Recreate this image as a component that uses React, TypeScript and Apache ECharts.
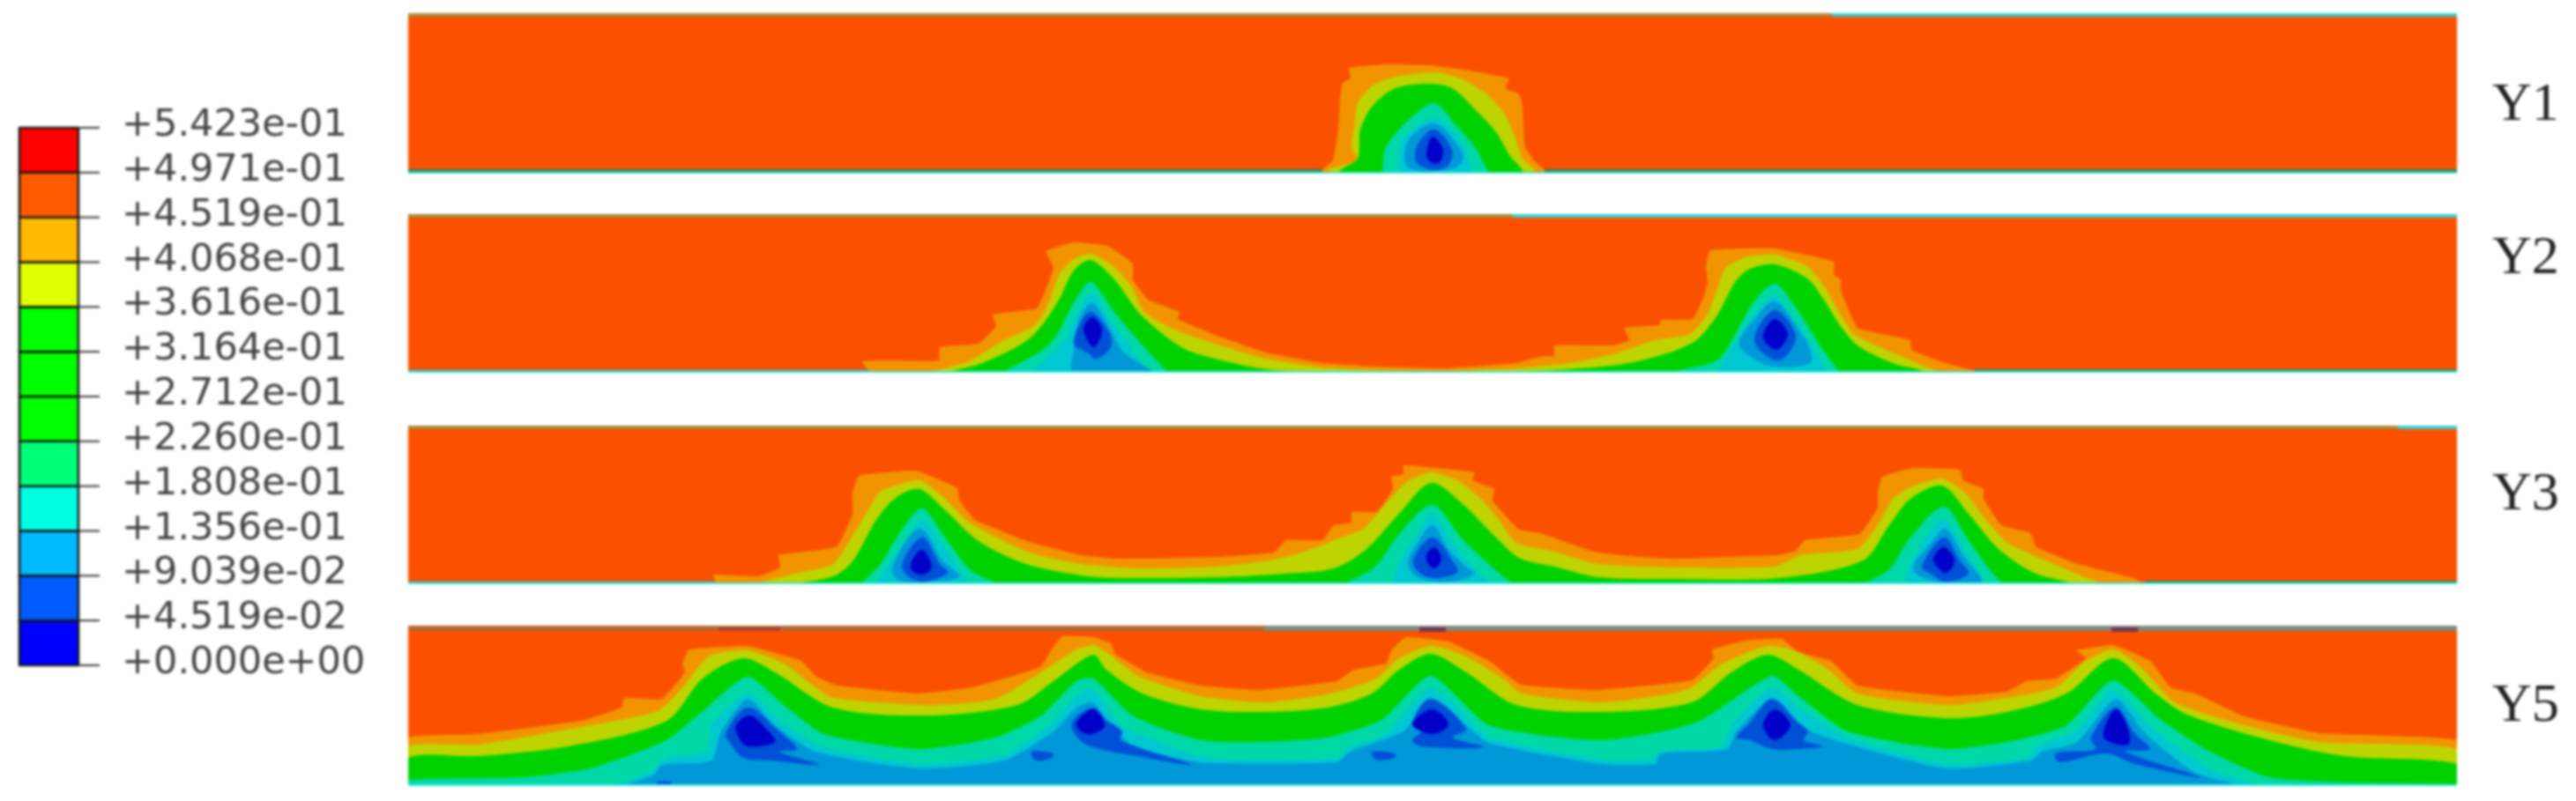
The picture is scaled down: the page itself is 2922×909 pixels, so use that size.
import React, { useEffect, useRef } from "react";
import * as echarts from "echarts";

const legendLabels = ["+0.000e+00","+4.519e-02","+9.039e-02","+1.356e-01","+1.808e-01","+2.260e-01","+2.712e-01","+3.164e-01","+3.616e-01","+4.068e-01","+4.519e-01","+4.971e-01","+5.423e-01"];
const legendColors = ["#0000ff","#005cff","#00baff","#00ffe0","#00ff78","#00ff00","#00ff00","#00ff00","#e0ff00","#ffb900","#ff5a00","#ff0000"];
const panelNames = ["Y1","Y2","Y3","Y5"];

const ORANGE="#FA5000", AMBER="#F29400", YELLOW="#BED400", GREEN="#00D200", TEAL="#00D8A8", CYAN="#00C8D0", SKY="#0098D8", BLUE="#0050D8", NAVY="#0000C8";

// contour outlines: flat lists of position, height above the lower edge
const y1Amber=[1500,4,1512,15,1518,50,1520,83,1523,103,1532,108,1530,120,1573,124,1620,123,1667,117,1712,108,1707,97,1723,90,1727,77,1728,57,1730,30,1740,15,1752,4];
const y1Yellow=[1508,5,1540,15,1533,30,1537,57,1540,80,1557,100,1583,110,1627,115,1657,108,1687,90,1707,67,1720,37,1727,17,1740,5];
const y1Green=[1520,4,1540,17,1543,50,1557,77,1583,97,1620,102,1647,97,1673,73,1697,47,1713,20,1727,4];
const y1Teal=[1568,2,1572,30,1597,60,1627,80,1653,53,1673,30,1688,2];
const y1Cyan=[1587,3,1590,37,1627,63,1657,37,1670,3];
const y1Sky=[1597,7,1597,37,1627,57,1653,33,1660,17,1647,5];
const y1Blue=[1607,13,1608,33,1627,50,1647,27,1643,10,1627,4];
const y1Navy=[1618,20,1625,42,1637,27,1633,13,1625,12];

const y2Amber=[986,1,978,13,1015,14,1065,14,1066,29,1110,33,1130,53,1126,66,1176,73,1187,96,1195,119,1187,138,1218,148,1256,144,1285,124,1285,106,1302,83,1338,69,1336,61,1378,43,1436,23,1500,11,1560,7,1640,5,1720,11,1750,19,1763,19,1763,31,1830,31,1848,37,1843,51,1883,54,1883,60,1920,61,1933,87,1937,104,1935,121,1940,139,2013,141,2080,126,2080,111,2088,106,2088,94,2107,51,2167,37,2168,26,2203,12,2240,2];
const y2Yellow=[1061,2,1099,13,1137,36,1172,53,1187,73,1202,113,1218,129,1237,135,1260,123,1283,99,1298,69,1332,49,1378,33,1436,16,1500,6,1560,3,1640,2,1720,5,1787,12,1833,22,1877,37,1917,44,1937,67,1950,101,1957,119,1980,131,2013,134,2050,121,2070,97,2087,67,2103,44,2137,27,2187,6,2200,1];
const y2Green=[1076,1,1114,11,1168,39,1199,79,1218,116,1237,128,1264,106,1294,66,1340,29,1378,16,1436,4,1474,2,1560,1.5,1720,2,1780,4,1853,12,1920,34,1947,64,1967,101,1983,117,2013,123,2050,107,2070,81,2087,54,2107,31,2147,11,2183,2];
const y2TealA=[1137,0,1191,33,1218,79,1237,103,1264,69,1298,29,1325,0];
const y2CyanA=[1168,0,1206,36,1225,73,1239,89,1260,59,1283,29,1302,0];
const y2SkyA=[1218,26,1225,63,1239,79,1256,56,1275,23,1306,0,1218,0];
const y2BlueA=[1218,33,1229,63,1239,69,1258,46,1260,29,1244,16,1233,23];
const y2NavyA=[1229,49,1239,63,1250,49,1241,29];
const y2TealB=[1890,0,1947,14,1967,41,1987,77,2013,101,2037,74,2067,27,2087,0];
const y2CyanB=[1947,0,1970,37,1993,71,2013,87,2033,64,2060,24,2073,0];
const y2SkyB=[1973,34,1990,61,2013,81,2037,54,2053,27,2053,11,2013,7,1987,17];
const y2BlueB=[1990,37,2013,71,2037,41,2017,14];
const y2NavyB=[2000,41,2013,61,2028,44,2015,26];

const y3Amber=[811,4,809,11,860,9,885,19,883,33,932,39,950,43,967,79,967,104,974,123,1039,129,1086,109,1088,96,1106,73,1168,48,1226,33,1271,29,1383,31,1445,36,1459,50,1500,50,1513,67,1533,70,1533,82,1562,82,1580,108,1578,122,1592,125,1592,135,1673,127,1670,118,1695,108,1693,95,1723,62,1747,58,1807,37,1847,32,1900,29,1957,31,2017,33,2037,38,2047,50,2110,57,2130,87,2130,105,2135,122,2170,132,2223,130,2227,118,2250,108,2250,97,2270,67,2303,58,2310,42,2357,23,2420,7,2433,0];
const y3Yellow=[860,1,905,13,945,23,972,63,990,93,999,106,1043,118,1070,99,1101,69,1168,36,1226,23,1293,18,1380,20,1440,27,1480,37,1513,50,1547,63,1573,93,1597,117,1623,127,1653,118,1680,97,1700,73,1720,47,1763,37,1813,23,1900,19,2013,20,2043,33,2107,40,2130,67,2147,97,2167,110,2203,120,2230,103,2253,73,2277,47,2320,27,2367,7,2383,1];
const y3Green=[896,0,945,9,967,26,994,73,1017,99,1043,108,1070,86,1110,49,1164,23,1235,9,1293,7,1380,8,1457,12,1513,18,1550,40,1587,80,1623,115,1657,93,1697,53,1723,30,1763,20,1813,8,1900,6,2017,7,2113,27,2143,67,2167,97,2203,112,2233,80,2267,40,2307,13,2347,2];
const y3TealA=[976,0,999,23,1021,59,1046,86,1070,56,1101,16,1133,0];
const y3CyanA=[994,0,1008,23,1030,53,1046,73,1066,49,1097,3,1095,0];
const y3SkyA=[1012,19,1043,63,1070,26,1088,9,1057,3,1021,4];
const y3BlueA=[1023,23,1046,53,1066,23,1075,13,1048,3,1030,9];
const y3NavyA=[1034,26,1046,39,1057,19,1046,11,1034,16];
const y3TealB=[1523,0,1560,20,1587,57,1625,90,1660,50,1700,13,1717,0];
const y3CyanB=[1580,0,1590,30,1610,60,1625,80,1653,40,1680,10,1693,0];
const y3SkyB=[1597,23,1610,50,1625,67,1643,40,1663,20,1673,12,1647,3,1610,7];
const y3BlueB=[1603,27,1625,53,1650,23,1653,13,1627,7,1610,13];
const y3NavyB=[1618,33,1627,42,1635,30,1628,18,1620,23];
const y3TealC=[2113,0,2143,17,2167,53,2205,88,2233,50,2260,13,2273,0];
const y3CyanC=[2160,0,2167,23,2187,57,2205,73,2230,37,2253,0];
const y3SkyC=[2170,17,2193,50,2207,63,2227,33,2247,3,2200,2];
const y3BlueC=[2180,20,2205,53,2223,27,2233,12,2207,3,2190,12];
const y3NavyC=[2193,30,2205,42,2217,27,2208,13,2197,20];

const y5Amber=[463,55,542,59,659,74,705,89,708,100,751,99,777,129,774,139,782,155,848,159,909,142,925,125,950,114,1042,105,1103,112,1180,135,1193,155,1205,170,1240,169,1260,162,1266,149,1301,129,1362,114,1429,109,1516,119,1536,132,1572,139,1579,155,1595,169,1643,164,1689,142,1725,115,1811,109,1919,120,1944,145,1942,155,1980,165,2021,167,2040,152,2077,142,2107,114,2209,102,2276,107,2299,119,2332,122,2366,145,2355,154,2397,160,2439,142,2462,112,2490,105,2546,79,2631,60,2787,52];
const y5Yellow=[463,45,542,47,670,69,746,85,772,109,792,135,807,149,848,154,889,139,925,112,945,100,1052,92,1129,99,1190,135,1221,155,1240,160,1255,152,1291,125,1362,102,1434,95,1505,104,1561,122,1587,145,1623,159,1663,147,1709,119,1725,105,1817,95,1913,109,1954,139,2005,159,2040,152,2074,132,2107,105,2209,92,2271,99,2332,112,2366,142,2397,155,2428,135,2467,95,2546,69,2631,50,2787,42];
const y5Green=[463,32,542,34,644,45,756,74,797,122,843,145,879,129,945,89,1052,80,1154,92,1195,119,1240,149,1255,132,1296,105,1362,87,1434,84,1505,89,1556,105,1587,132,1623,150,1663,129,1720,92,1817,84,1919,95,1964,129,2005,149,2040,132,2107,92,2209,77,2276,84,2344,105,2397,145,2445,105,2479,82,2563,55,2659,34,2787,25];
const y5Teal=[463,7,593,10,670,20,756,52,797,85,848,124,889,92,935,59,1042,42,1129,55,1180,79,1221,119,1240,122,1286,79,1362,52,1434,50,1505,55,1567,75,1623,125,1689,69,1817,52,1924,72,2010,125,2040,102,2096,62,2209,42,2287,52,2344,69,2397,120,2451,75,2507,39,2574,10,2659,4,2787,2];
const y5Cyan=[463,0,695,2,736,15,756,32,802,39,807,69,848,105,884,75,930,45,1042,25,1139,35,1190,69,1221,102,1240,109,1271,69,1291,59,1368,32,1521,32,1526,42,1572,59,1592,82,1623,112,1658,85,1689,55,1817,30,1873,30,1883,39,1954,45,1964,69,2010,112,2040,89,2096,55,2209,25,2299,32,2310,45,2355,62,2397,109,2445,62,2507,19,2563,0];
const y5Sky=[705,0,741,12,751,24,807,29,818,62,848,99,879,69,925,39,1042,20,1139,29,1195,62,1221,89,1240,95,1260,69,1286,45,1362,27,1516,27,1531,39,1592,62,1623,99,1663,69,1689,49,1817,25,1878,25,1883,37,1959,42,1970,62,2010,99,2040,69,2091,49,2209,20,2304,29,2316,39,2355,49,2400,99,2434,59,2490,15,2546,0];
const y5BlueA=[823,59,848,89,884,62,904,42,884,39,930,24,874,29,843,32,828,49];
const y5BlueA2=[746,2,761,2,761,5,746,5];
const y5BlueA3=[1170,39,1195,37,1193,32,1175,29];
const y5BlueB=[1216,72,1240,89,1255,75,1273,62,1271,52,1352,24,1301,32,1240,44,1222,55];
const y5BlueB2=[1556,39,1582,37,1582,32,1561,30];
const y5BlueC=[1602,72,1623,99,1663,65,1648,55,1684,44,1612,45,1602,52,1612,62];
const y5BlueD=[1970,55,1985,72,2010,99,2040,72,2051,62,2046,52,2068,45,2040,42,2010,42,1985,52];
const y5BlueE=[2372,55,2400,89,2422,59,2439,42,2411,39,2496,10,2422,25,2389,37,2335,27,2332,37,2377,42];
const y5NavyA=[835,69,851,80,869,65,879,50,848,45,838,55];
const y5NavyB=[1221,72,1240,87,1253,69,1240,59,1226,62];
const y5NavyC=[1602,70,1625,87,1643,70,1625,59];
const y5NavyD=[2000,69,2013,87,2031,69,2013,52];
const y5NavyE=[2386,62,2400,87,2414,65,2414,47,2389,52];

const X0=463, X1=2787;
const panelHeights=[182,180,180,182];
const panelBottoms=[197,423,663,892];
const OLIVE="#A88A3C", TOPCY="#35CFCF", BROWN="#B06A35", GREY="#7E8A7E", DARKG="#2E8A58", EDGE="#3DE6DC";
// edge strips: from, to, height from, height to
const y1Strips:any[]=[[X0,2078,178,182,OLIVE],[2078,X1,178,182,TOPCY],[X0,1500,2,5,DARKG],[1752,X1,2,5,DARKG],[X0,X1,0,2,EDGE]];
const y2Strips:any[]=[[X0,1715,176,180,OLIVE],[1715,X1,176,180,TOPCY],[X0,986,2,4,GREY],[2240,X1,2,4,DARKG],[X0,X1,0,2,EDGE]];
const y3Strips:any[]=[[X0,2720,176,180,OLIVE],[2720,X1,176,180,TOPCY],[X0,811,2,4,GREY],[2433,X1,2,4,DARKG],[X0,X1,0,2,EDGE]];
const y5Strips:any[]=[[X0,1434,176,182,BROWN],[1434,X1,176,182,GREY],[815,885,176,180,"#A8402E"],[1610,1640,175,180,"#6A3A50"],[2395,2425,175,180,"#6A3A50"],[X0,X1,0,2,EDGE]];

const pairs=(f:number[])=>{const r:number[][]=[];for(let i=0;i<f.length;i+=2)r.push([f[i],f[i+1]]);return r;};
const dome=(f:number[],color:string,smooth=0.3)=>{const p=pairs(f);return {color,smooth,pts:[...p,[p[p.length-1][0],0],[p[0][0],0]]};};
const blob=(f:number[],color:string)=>({color,smooth:0.35,pts:pairs(f)});
const strip=(s:any[])=>({color:s[4],smooth:0,pts:[[s[0],s[2]],[s[1],s[2]],[s[1],s[3]],[s[0],s[3]]]});

const panelShapes=[
 [dome(y1Amber,AMBER,0.1),dome(y1Yellow,YELLOW,0.2),dome(y1Green,GREEN),dome(y1Teal,TEAL),dome(y1Cyan,CYAN),blob(y1Sky,SKY),blob(y1Blue,BLUE),blob(y1Navy,NAVY),...y1Strips.map(strip)],
 [dome(y2Amber,AMBER,0.1),dome(y2Yellow,YELLOW,0.2),dome(y2Green,GREEN),dome(y2TealA,TEAL),dome(y2TealB,TEAL),dome(y2CyanA,CYAN),dome(y2CyanB,CYAN),blob(y2SkyA,SKY),blob(y2SkyB,SKY),blob(y2BlueA,BLUE),blob(y2BlueB,BLUE),blob(y2NavyA,NAVY),blob(y2NavyB,NAVY),...y2Strips.map(strip)],
 [dome(y3Amber,AMBER,0.1),dome(y3Yellow,YELLOW,0.2),dome(y3Green,GREEN),dome(y3TealA,TEAL),dome(y3TealB,TEAL),dome(y3TealC,TEAL),dome(y3CyanA,CYAN),dome(y3CyanB,CYAN),dome(y3CyanC,CYAN),blob(y3SkyA,SKY),blob(y3SkyB,SKY),blob(y3SkyC,SKY),blob(y3BlueA,BLUE),blob(y3BlueB,BLUE),blob(y3BlueC,BLUE),blob(y3NavyA,NAVY),blob(y3NavyB,NAVY),blob(y3NavyC,NAVY),...y3Strips.map(strip)],
 [dome(y5Amber,AMBER,0.1),dome(y5Yellow,YELLOW,0.2),dome(y5Green,GREEN),dome(y5Teal,TEAL,0.2),dome(y5Cyan,CYAN,0.2),dome(y5Sky,SKY,0.2),blob(y5BlueA,BLUE),blob(y5BlueA2,BLUE),blob(y5BlueA3,BLUE),blob(y5BlueB,BLUE),blob(y5BlueB2,BLUE),blob(y5BlueC,BLUE),blob(y5BlueD,BLUE),blob(y5BlueE,BLUE),blob(y5NavyA,NAVY),blob(y5NavyB,NAVY),blob(y5NavyC,NAVY),blob(y5NavyD,NAVY),blob(y5NavyE,NAVY),...y5Strips.map(strip)],
];
const labelCentres=[115,289,557,797];
const BAR_W=67, TICK_W=24;

export default function App(){
 const ref=useRef<HTMLDivElement>(null);
 useEffect(()=>{
  const chart=echarts.init(ref.current!,undefined,{renderer:"svg"});
  const grids:any[]=[],xAxes:any[]=[],yAxes:any[]=[],series:any[]=[];
  panelShapes.forEach((shapes:any[],i)=>{
   grids.push({left:X0,width:X1-X0,top:panelBottoms[i]-panelHeights[i],height:panelHeights[i],show:true,backgroundColor:ORANGE,borderWidth:0});
   xAxes.push({type:"value",gridIndex:i,min:X0,max:X1,show:false});
   yAxes.push({type:"value",gridIndex:i,min:0,max:panelHeights[i],show:false});
   series.push({type:"custom",xAxisIndex:i,yAxisIndex:i,silent:true,clip:true,
    data:shapes.map((s:any,k:number)=>[s.pts[0][0],s.pts[0][1],k]),
    encode:{x:0,y:1},
    renderItem:(_:any,api:any)=>{
     const s=shapes[api.value(2)];
     return {type:"polygon",shape:{points:s.pts.map((p:number[])=>api.coord(p)),smooth:s.smooth},style:{fill:s.color,stroke:null}};
    }});
  });
  const L=panelShapes.length;
  // colour bar and its tick marks
  grids.push({left:22,width:BAR_W+TICK_W,top:145,height:610,show:false});
  xAxes.push({type:"value",gridIndex:L,min:0,max:BAR_W+TICK_W,show:false});
  yAxes.push({type:"value",gridIndex:L,min:0,max:12,interval:1,show:false});
  series.push({type:"custom",xAxisIndex:L,yAxisIndex:L,silent:true,clip:false,
   data:legendLabels.map((_,i)=>[BAR_W,i,i]),encode:{x:0,y:1},z:3,
   renderItem:(_:any,api:any)=>{
    const a=api.coord([BAR_W,api.value(2)]),b=api.coord([BAR_W+TICK_W,api.value(2)]);
    return {type:"line",shape:{x1:a[0],y1:a[1],x2:b[0],y2:b[1]},style:{stroke:"#333",lineWidth:2}};
   }});
  series.push({type:"custom",xAxisIndex:L,yAxisIndex:L,silent:true,clip:false,
   data:legendColors.map((c,i)=>[0,i,i]),encode:{x:0,y:1},
   renderItem:(_:any,api:any)=>{
    const i=api.value(2);
    const a=api.coord([0,i+1]),b=api.coord([BAR_W,i]);
    return {type:"rect",shape:{x:a[0],y:a[1],width:b[0]-a[0],height:b[1]-a[1]},style:{fill:legendColors[i],stroke:"#151515",lineWidth:2.5}};
   }});
  // tick labels, set a little above their ticks as in the source
  grids.push({left:22,width:BAR_W+TICK_W,top:139,height:610,show:false});
  xAxes.push({type:"value",gridIndex:L+1,min:0,max:1,show:false});
  yAxes.push({type:"value",gridIndex:L+1,min:0,max:12,interval:1,position:"right",
   splitLine:{show:false},axisLine:{show:false},axisTick:{show:false},
   axisLabel:{margin:25,color:"#444",fontFamily:"DejaVu Sans",fontSize:43,showMinLabel:true,showMaxLabel:true,formatter:(v:number)=>legendLabels[Math.round(v)]}});
  chart.setOption({animation:false,backgroundColor:"#fff",grid:grids,xAxis:xAxes,yAxis:yAxes,series,
   graphic:panelNames.map((t,i)=>({type:"text",x:2827,y:labelCentres[i],style:{text:t,fontFamily:"Liberation Serif",fontSize:62,fill:"#222",textVerticalAlign:"middle"}}))});
  return ()=>chart.dispose();
 },[]);
 return <div ref={ref} style={{position:"fixed",left:0,top:0,width:2922,height:909,filter:"blur(1.4px)"}}/>;
}
